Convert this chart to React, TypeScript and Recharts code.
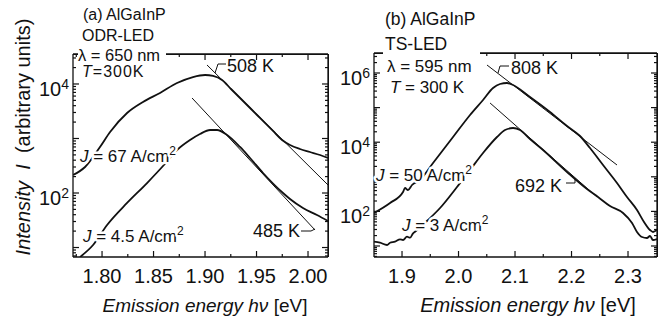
import React from 'react';
import { LineChart, Line, XAxis, YAxis, ReferenceLine } from 'recharts';

const FONT = '"Liberation Sans", Arial, Helvetica, sans-serif';
const INK = '#111';

// ---------- Panel (a): AlGaInP ODR-LED ----------
const energyA_J67 = [1.772, 1.7835, 1.798, 1.8078, 1.8243, 1.8398, 1.8563, 1.8728, 1.8883, 1.9, 1.9078, 1.9165, 1.9252, 1.934, 1.9505, 1.966, 1.9748, 1.9825, 1.9922, 2.0019, 2.0117, 2.0194];
const logIA_J67 = [2.33, 2.477, 2.844, 3.119, 3.468, 3.67, 3.835, 4.018, 4.128, 4.165, 4.147, 4.073, 3.908, 3.743, 3.431, 3.138, 2.972, 2.881, 2.807, 2.752, 2.697, 2.642];

const energyA_J45 = [1.7786, 1.7913, 1.8049, 1.8243, 1.8437, 1.8592, 1.8728, 1.8854, 1.8951, 1.9049, 1.9117, 1.9214, 1.934, 1.9437, 1.9563, 1.9757, 1.9825, 1.9951, 2.0087, 2.0194];
const logIA_J45 = [0.826, 1.046, 1.413, 1.817, 2.183, 2.495, 2.789, 2.972, 3.083, 3.156, 3.156, 3.064, 2.844, 2.642, 2.367, 2.0, 1.89, 1.725, 1.596, 1.486];

const energyA_T508 = [1.9019, 2.0194];
const logIA_T508 = [4.349, 2.147];
const energyA_T485 = [1.8874, 2.0068];
const logIA_T485 = [3.743, 1.321];

const X_TICKS_A = [1.775, 1.8, 1.825, 1.85, 1.875, 1.9, 1.925, 1.95, 1.975, 2.0];
const X_MAJOR_A = [1.8, 1.85, 1.9, 1.95, 2.0];
const X_LABELS_A = ['1.80', '1.85', '1.90', '1.95', '2.00'];
const Y_LABEL_EXP_A = [2, 4];
const X_DOMAIN_A: [number, number] = [1.7718, 2.0194];
const LOG_DOMAIN_A: [number, number] = [0.826, 4.55];

// ---------- Panel (b): AlGaInP TS-LED ----------
const energyB_J50 = [1.8504, 1.8788, 1.9018, 1.9053, 1.9106, 1.9177, 1.9319, 1.9549, 1.9903, 2.0204, 2.0434, 2.0611, 2.0735, 2.0858, 2.0965, 2.1265, 2.1619, 2.192, 2.215, 2.2327, 2.2558, 2.2805, 2.2982, 2.3159, 2.3283, 2.3389, 2.3442, 2.3513];
const logIB_J50 = [1.954, 2.243, 2.561, 2.676, 2.618, 2.763, 2.908, 3.399, 4.15, 4.786, 5.22, 5.566, 5.682, 5.711, 5.653, 5.306, 4.873, 4.468, 4.179, 3.832, 3.341, 2.821, 2.416, 2.04, 1.694, 1.462, 1.405, 1.462];

const energyB_J3 = [1.8504, 1.861, 1.8735, 1.8788, 1.8876, 1.8965, 1.9018, 1.9088, 1.9142, 1.9195, 1.923, 1.946, 1.9673, 1.9973, 2.0204, 2.0434, 2.0681, 2.0823, 2.0965, 2.1088, 2.1265, 2.1496, 2.192, 2.2274, 2.2469, 2.2681, 2.2912, 2.3071, 2.3159, 2.3248, 2.3336, 2.3389, 2.3442, 2.3513];
const logIB_J3 = [1.124, 1.095, 1.029, 1.095, 1.124, 1.194, 1.173, 1.269, 1.24, 1.367, 1.413, 1.751, 2.098, 2.705, 3.197, 3.688, 4.15, 4.353, 4.41, 4.353, 4.092, 3.775, 3.139, 2.647, 2.416, 2.156, 1.954, 1.665, 1.405, 1.26, 1.231, 1.289, 1.173, 1.202];

const energyB_T808 = [2.0504, 2.2805];
const logIB_T808 = [6.231, 3.341];
const energyB_T692 = [2.0558, 2.2451];
const logIB_T692 = [5.133, 2.416];

const X_TICKS_B = [1.9, 1.95, 2.0, 2.05, 2.1, 2.15, 2.2, 2.25, 2.3];
const X_MAJOR_B = [1.9, 2.0, 2.1, 2.2, 2.3];
const X_LABELS_B = ['1.9', '2.0', '2.1', '2.2', '2.3'];
const Y_LABEL_EXP_B = [2, 4, 6];
const X_DOMAIN_B: [number, number] = [1.8504, 2.3513];
const LOG_DOMAIN_B: [number, number] = [0.682, 6.578];

// ---------- layout ----------
const CHART_H = 326;
const X_AXIS_H = 30;
const LAYOUT_A = { left: 0, width: 340, yWidth: 73, margin: { top: 54, right: 12, bottom: 39, left: 0 } };
const LAYOUT_B = { left: 330, width: 332, yWidth: 44, margin: { top: 53, right: 5, bottom: 39, left: 0 } };
const plotBox = (L: typeof LAYOUT_A) => ({
  x0: L.left + L.margin.left + L.yWidth,
  x1: L.left + L.width - L.margin.right,
  y0: L.margin.top,
  y1: CHART_H - L.margin.bottom - X_AXIS_H,
});

type Pt = { e: number; i: number };
const toSeries = (en: number[], lg: number[]): Pt[] => en.map((e, k) => ({ e, i: Math.pow(10, lg[k]) }));

const logTicks = (lo: number, hi: number) => {
  const out: number[] = [];
  for (let d = Math.floor(lo); d <= Math.ceil(hi); d++) {
    for (let m = 1; m <= 9; m++) {
      const v = m * Math.pow(10, d);
      const l = Math.log10(v);
      if (l >= lo && l <= hi) out.push(v);
    }
  }
  return out;
};

const makeXTick = (majors: number[], labels: string[], plotH: number) => (props: any) => {
  const { x, y, payload } = props;
  const v = payload.value;
  const k = majors.findIndex((m) => Math.abs(m - v) < 1e-6);
  const len = k >= 0 ? 6 : 3;
  const top = y - plotH;
  return (
    <g>
      <line x1={x} x2={x} y1={y} y2={y - len} stroke={INK} strokeWidth={1.2} />
      <line x1={x} x2={x} y1={top} y2={top + len} stroke={INK} strokeWidth={1.2} />
      {k >= 0 && (
        <text x={x} y={y + 26} textAnchor="middle" fontSize={20} fontFamily={FONT} fill={INK}>
          {labels[k]}
        </text>
      )}
    </g>
  );
};

const makeYTick = (labelExps: number[], plotW: number) => (props: any) => {
  const { x, y, payload } = props;
  const v = payload.value;
  const lg = Math.log10(v);
  const r = Math.round(lg);
  const isDec = Math.abs(lg - r) < 1e-6;
  const len = isDec ? 6 : 3;
  const right = x + plotW;
  return (
    <g>
      <line x1={x} x2={x + len} y1={y} y2={y} stroke={INK} strokeWidth={1.2} />
      <line x1={right} x2={right - len} y1={y} y2={y} stroke={INK} strokeWidth={1.2} />
      {isDec && labelExps.includes(r) && (
        <text x={x - 4} y={y + 12} textAnchor="end" fontSize={20} fontFamily={FONT} fill={INK}>
          10
          <tspan fontSize={14} dy={-7}>
            {r}
          </tspan>
        </text>
      )}
    </g>
  );
};

type PanelProps = {
  layout: typeof LAYOUT_A;
  xDomain: [number, number];
  logDomain: [number, number];
  xTicks: number[];
  xMajor: number[];
  xLabels: string[];
  yLabelExps: number[];
  curves: Pt[][];
  tangents: Pt[][];
};

function Panel(p: PanelProps) {
  const L = p.layout;
  const plotW = L.width - L.margin.left - L.margin.right - L.yWidth;
  const plotH = CHART_H - L.margin.top - L.margin.bottom - X_AXIS_H;
  const yDomain: [number, number] = [Math.pow(10, p.logDomain[0]), Math.pow(10, p.logDomain[1])];
  const yTicks = logTicks(p.logDomain[0], p.logDomain[1]);
  return (
    <div style={{ position: 'absolute', left: L.left, top: 0 }}>
      <LineChart width={L.width} height={CHART_H} margin={L.margin}>
        <XAxis
          xAxisId="b"
          dataKey="e"
          type="number"
          domain={p.xDomain}
          allowDataOverflow
          ticks={p.xTicks}
          interval={0}
          tickSize={0}
          tickMargin={0}
          tickLine={false}
          height={X_AXIS_H}
          axisLine={{ stroke: INK, strokeWidth: 1.3 }}
          tick={makeXTick(p.xMajor, p.xLabels, plotH)}
        />
        <YAxis
          yAxisId="l"
          type="number"
          scale="log"
          domain={yDomain}
          allowDataOverflow
          ticks={yTicks}
          interval={0}
          tickSize={0}
          tickMargin={0}
          tickLine={false}
          width={L.yWidth}
          axisLine={{ stroke: INK, strokeWidth: 1.3 }}
          tick={makeYTick(p.yLabelExps, plotW)}
        />
        <ReferenceLine xAxisId="b" yAxisId="l" y={yDomain[1]} stroke={INK} strokeWidth={1.3} />
        <ReferenceLine xAxisId="b" yAxisId="l" x={p.xDomain[1]} stroke={INK} strokeWidth={1.3} />
        {p.tangents.map((d, k) => (
          <Line
            key={'t' + k}
            xAxisId="b"
            yAxisId="l"
            data={d}
            dataKey="i"
            type="linear"
            stroke={INK}
            strokeWidth={1}
            dot={false}
            activeDot={false}
            isAnimationActive={false}
          />
        ))}
        {p.curves.map((d, k) => (
          <Line
            key={'c' + k}
            xAxisId="b"
            yAxisId="l"
            data={d}
            dataKey="i"
            type="monotone"
            stroke={INK}
            strokeWidth={1.8}
            dot={false}
            activeDot={false}
            isAnimationActive={false}
          />
        ))}
      </LineChart>
    </div>
  );
}

// HTML frame for the top and right edges of each plot box
function FrameBox({ L }: { L: typeof LAYOUT_A }) {
  const b = plotBox(L);
  return (
    <div
      style={{
        position: 'absolute',
        left: b.x0,
        top: b.y0 - 0.5,
        width: b.x1 - b.x0 + 0.6,
        height: b.y1 - b.y0,
        borderTop: `1.3px solid ${INK}`,
        borderRight: `1.3px solid ${INK}`,
        boxSizing: 'border-box',
        pointerEvents: 'none',
      }}
    />
  );
}

const halo = { stroke: '#fff', strokeWidth: 5, paintOrder: 'stroke' as any, strokeLinejoin: 'round' as any };

function Overlay() {
  const sp = '\u00a0\u00a0';
  return (
    <svg
      width={662}
      height={326}
      style={{ position: 'absolute', left: 0, top: 0, pointerEvents: 'none' }}
      fontFamily={FONT}
      fill={INK}
    >
      {/* masks behind the corner text blocks */}
      <rect x={78} y={44} width={88} height={37} fill="#fff" />
      <rect x={383} y={44} width={97} height={53} fill="#fff" />

      {/* panel (a) text block */}
      <text x={83} y={20} fontSize={16}>(a) AlGaInP</text>
      <text x={82} y={41} fontSize={16}>ODR-LED</text>
      <text x={78} y={61} fontSize={16.5}>λ = 650 nm</text>
      <text x={82} y={77} fontSize={16} letterSpacing={1}>
        <tspan fontStyle="italic">T</tspan>=300K
      </text>

      {/* panel (b) text block */}
      <text x={385} y={25} fontSize={17.5}>(b) AlGaInP</text>
      <text x={385} y={50} fontSize={17.5}>TS-LED</text>
      <text x={387} y={72} fontSize={17}>λ = 595 nm</text>
      <text x={390} y={93} fontSize={17}>
        <tspan fontStyle="italic">T</tspan> = 300 K
      </text>

      {/* temperature labels */}
      <text x={227} y={72} fontSize={18}>508 K</text>
      <path d="M215 73 L218 64 L226 64" fill="none" stroke={INK} strokeWidth={1} />
      <text x={253} y={237} fontSize={18}>485 K</text>
      <path d="M301 231 L311 231 L315 229" fill="none" stroke={INK} strokeWidth={1} />
      <text x={511} y={74} fontSize={18}>808 K</text>
      <path d="M498 73 L500 66 L509 66" fill="none" stroke={INK} strokeWidth={1} />
      <text x={515} y={192} fontSize={18}>692 K</text>
      <path d="M566 183 L575 183 L575 178" fill="none" stroke={INK} strokeWidth={1} />

      {/* current density labels */}
      <text x={80} y={162} fontSize={17} {...halo}>
        <tspan fontStyle="italic">J</tspan> = 67 A/cm<tspan fontSize={12} dy={-7}>2</tspan>
      </text>
      <text x={83} y={242} fontSize={17} {...halo}>
        <tspan fontStyle="italic">J</tspan> = 4.5 A/cm<tspan fontSize={12} dy={-7}>2</tspan>
      </text>
      <text x={376} y={181} fontSize={17} {...halo}>
        <tspan fontStyle="italic">J</tspan> = 50 A/cm<tspan fontSize={12} dy={-7}>2</tspan>
      </text>
      <text x={402} y={231} fontSize={17} {...halo}>
        <tspan fontStyle="italic">J</tspan> = 3 A/cm<tspan fontSize={12} dy={-7}>2</tspan>
      </text>

      {/* axis titles */}
      <text transform="translate(30,137) rotate(-90)" textAnchor="middle" fontSize={20}>
        <tspan fontStyle="italic">Intensity</tspan>
        {sp}
        <tspan fontStyle="italic">I</tspan>
        {sp}(arbitrary units)
      </text>
      <text x={205} y={312} textAnchor="middle" fontSize={19}>
        <tspan fontStyle="italic">Emission energy hν</tspan> [eV]
      </text>
      <text x={528} y={312} textAnchor="middle" fontSize={20}>
        <tspan fontStyle="italic">Emission energy hν</tspan> [eV]
      </text>
    </svg>
  );
}

export default function App() {
  return (
    <div style={{ position: 'absolute', left: 0, top: 0, width: 662, height: 326, background: '#fff', overflow: 'hidden' }}>
      <Panel
        layout={LAYOUT_A}
        xDomain={X_DOMAIN_A}
        logDomain={LOG_DOMAIN_A}
        xTicks={X_TICKS_A}
        xMajor={X_MAJOR_A}
        xLabels={X_LABELS_A}
        yLabelExps={Y_LABEL_EXP_A}
        curves={[toSeries(energyA_J67, logIA_J67), toSeries(energyA_J45, logIA_J45)]}
        tangents={[toSeries(energyA_T508, logIA_T508), toSeries(energyA_T485, logIA_T485)]}
      />
      <Panel
        layout={LAYOUT_B}
        xDomain={X_DOMAIN_B}
        logDomain={LOG_DOMAIN_B}
        xTicks={X_TICKS_B}
        xMajor={X_MAJOR_B}
        xLabels={X_LABELS_B}
        yLabelExps={Y_LABEL_EXP_B}
        curves={[toSeries(energyB_J50, logIB_J50), toSeries(energyB_J3, logIB_J3)]}
        tangents={[toSeries(energyB_T808, logIB_T808), toSeries(energyB_T692, logIB_T692)]}
      />
      <FrameBox L={LAYOUT_A} />
      <FrameBox L={LAYOUT_B} />
      <Overlay />
    </div>
  );
}
